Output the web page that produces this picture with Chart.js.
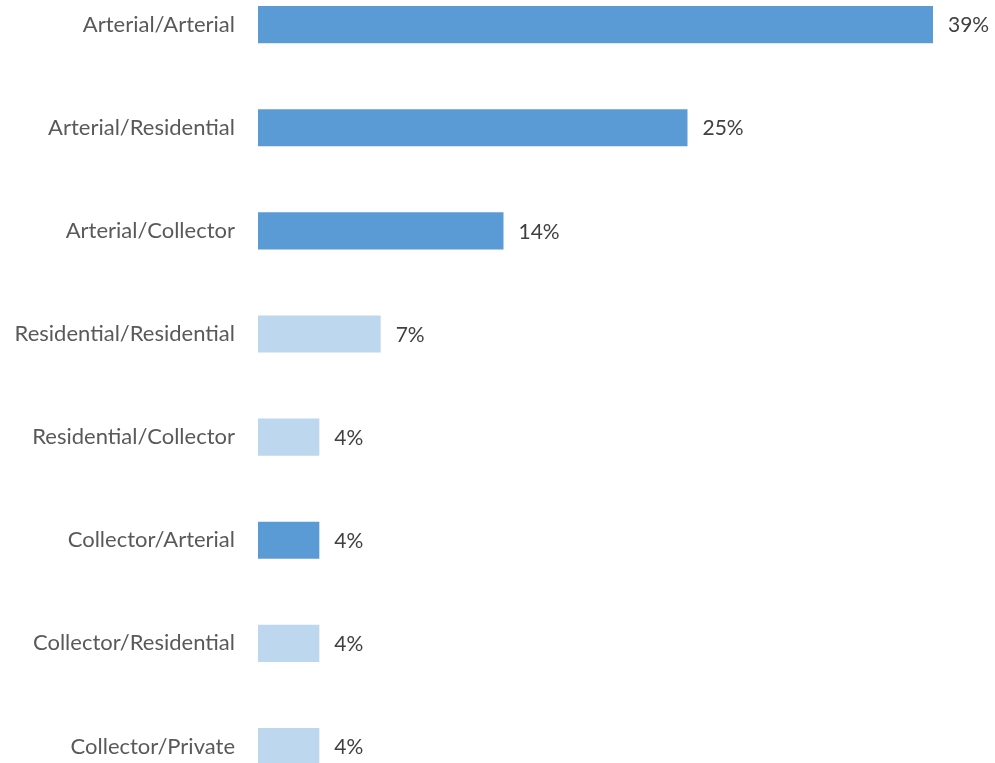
<!DOCTYPE html>
<html>
<head>
<meta charset="utf-8">
<script src="https://cdn.jsdelivr.net/npm/chart.js@4.4.1/dist/chart.umd.min.js"></script>
<style>
  html, body { margin: 0; padding: 0; background: #ffffff; overflow: hidden; width: 995px; height: 763px; }
  #c { position: absolute; left: 0; top: -27px; }
</style>
</head>
<body>
<canvas id="c" width="995" height="825"></canvas>
<script>
const categories = [
  "Arterial/Arterial",
  "Arterial/Residential",
  "Arterial/Collector",
  "Residential/Residential",
  "Residential/Collector",
  "Collector/Arterial",
  "Collector/Residential",
  "Collector/Private"
];
// share of 28 intersections (%)
const shares = [39.29, 25.0, 14.29, 7.14, 3.57, 3.57, 3.57, 3.57];
const highlight = [true, true, true, false, false, true, false, false];

const DARK = "#5B9BD5";
const LIGHT = "#BDD7EE";
const FONT = "Lato, sans-serif";
const LABEL_SIZE = 22;
const VALUE_SIZE = 21;

const valueLabels = {
  id: "valueLabels",
  afterDatasetsDraw(chart) {
    const ctx = chart.ctx;
    const meta = chart.getDatasetMeta(0);
    ctx.save();
    ctx.font = VALUE_SIZE + "px " + FONT;
    ctx.fillStyle = "#404040";
    ctx.textAlign = "left";
    ctx.textBaseline = "middle";
    meta.data.forEach((bar, i) => {
      ctx.fillText(Math.round(shares[i]) + "%", bar.x + 15, bar.y + 1);
    });
    ctx.restore();
  }
};

new Chart(document.getElementById("c"), {
  type: "bar",
  data: {
    labels: categories,
    datasets: [{
      data: shares,
      backgroundColor: highlight.map(h => h ? DARK : LIGHT),
      borderWidth: 0,
      barPercentage: 0.36,
      categoryPercentage: 1.0
    }]
  },
  options: {
    indexAxis: "y",
    responsive: false,
    maintainAspectRatio: false,
    animation: false,
    devicePixelRatio: 1,
    layout: { padding: 0 },
    plugins: { legend: { display: false }, tooltip: { enabled: false } },
    scales: {
      x: {
        display: false,
        min: 0,
        max: 42.9
      },
      y: {
        afterFit(scale) {
          scale.width = 258;
          scale.paddingTop = 0;
          scale.paddingBottom = 0;
        },
        grid: { display: false, drawTicks: false },
        border: { display: false },
        ticks: {
          padding: 23,
          color: "#595959",
          font: { family: FONT, size: LABEL_SIZE }
        }
      }
    }
  },
  plugins: [valueLabels]
});
</script>
</body>
</html>
